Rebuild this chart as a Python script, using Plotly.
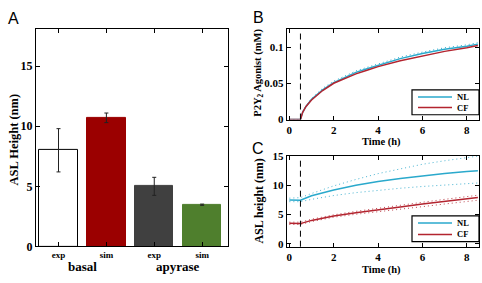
import plotly.graph_objects as go

# ---------------- data ----------------
# Panel A
bar_labels = ["exp", "sim", "exp", "sim"]
bar_pos = [1, 2, 3, 4]
group_labels = ["basal", "apyrase"]
asl_mean = [8.0, 10.7, 5.0, 3.47]
asl_err = [1.8, 0.4, 0.75, 0.05]
bar_colors = ["#ffffff", "#9b0000", "#404040", "#4f7f2d"]
bar_edges = ["#000000", "#9b0000", "#404040", "#4f7f2d"]
a_yticks = [0, 5, 10, 15]

# Panel B: P2Y2 agonist (mM) vs time (h)
t_b = [0, 0.25, 0.5, 0.6, 0.75, 1.0, 1.25, 1.5, 2.0, 2.5, 3.0, 3.5, 4.0, 5.0, 6.0, 7.0, 8.0, 8.5]
agon_nl = [0, 0, 0, 0.010, 0.018, 0.028, 0.035, 0.041, 0.051, 0.058, 0.065, 0.070, 0.075, 0.084, 0.091, 0.097, 0.101, 0.104]
agon_nl_hi = [0, 0, 0, 0.011, 0.019, 0.029, 0.036, 0.043, 0.053, 0.060, 0.067, 0.072, 0.077, 0.086, 0.093, 0.099, 0.103, 0.106]
agon_cf = [0, 0, 0, 0.010, 0.018, 0.027, 0.034, 0.040, 0.050, 0.057, 0.063, 0.068, 0.073, 0.081, 0.088, 0.094, 0.099, 0.102]
b_yticks = [0, 0.05, 0.1]
b_yticklabels = ["0", "0.05", "0.1"]

# Panel C: ASL height vs time (h)
t_c = [0, 0.25, 0.5, 1, 1.5, 2, 3, 4, 5, 6, 7, 8, 8.5]
asl_nl = [7.5, 7.5, 7.45, 8.2, 8.75, 9.2, 10.0, 10.65, 11.15, 11.6, 12.0, 12.35, 12.5]
asl_nl_hi = [7.8, 7.8, 7.9, 8.6, 9.3, 9.9, 11.0, 12.0, 12.8, 13.6, 14.2, 14.8, 15.0]
asl_nl_lo = [7.2, 7.2, 7.2, 7.6, 7.95, 8.25, 8.75, 9.15, 9.5, 9.8, 10.05, 10.3, 10.4]
asl_cf = [3.5, 3.5, 3.45, 4.0, 4.4, 4.75, 5.3, 5.75, 6.3, 6.8, 7.25, 7.7, 7.9]
asl_cf_hi = [3.7, 3.7, 3.7, 4.2, 4.6, 4.95, 5.55, 6.1, 6.6, 7.1, 7.6, 8.1, 8.3]
asl_cf_lo = [3.3, 3.3, 3.3, 3.8, 4.2, 4.55, 5.05, 5.45, 5.9, 6.35, 6.8, 7.2, 7.45]
c_yticks = [0, 5, 10, 15]

series_names = ["NL", "CF"]
t_event = 0.5
time_ticks = [0, 2, 4, 6, 8]

NL_COLOR = "#2aa9cc"
CF_COLOR = "#b3242f"
series_colors = [NL_COLOR, CF_COLOR]

SERIF = "Liberation Serif"
W, H = 482, 283

def px_x(x):
    return x / W

def px_y(y):
    return 1 - y / H

def bold(labels):
    return ["<b>%s</b>" % l for l in labels]

fig = go.Figure()

# ---- Panel A bars ----
fig.add_trace(go.Bar(
    x=bar_pos, y=asl_mean, width=0.8,
    marker=dict(color=bar_colors, line=dict(color=bar_edges, width=1)),
    error_y=dict(type="data", array=asl_err, visible=True, color="#222222", thickness=1, width=2),
    xaxis="x", yaxis="y", showlegend=False,
))

DOT = "1px,3px"

# ---- Panel B ----
fig.add_trace(go.Scatter(x=t_b, y=agon_nl_hi, mode="lines", line=dict(color=NL_COLOR, width=1, dash=DOT),
                         xaxis="x2", yaxis="y2", showlegend=False))
fig.add_trace(go.Scatter(x=t_b, y=agon_nl, mode="lines", name="NL", line=dict(color=NL_COLOR, width=1.5),
                         xaxis="x2", yaxis="y2", showlegend=False))
fig.add_trace(go.Scatter(x=t_b, y=agon_cf, mode="lines", name="CF", line=dict(color=CF_COLOR, width=1.5),
                         xaxis="x2", yaxis="y2", showlegend=False))

# ---- Panel C ----
for arr, col in [(asl_nl_hi, NL_COLOR), (asl_nl_lo, NL_COLOR), (asl_cf_hi, CF_COLOR), (asl_cf_lo, CF_COLOR)]:
    fig.add_trace(go.Scatter(x=t_c, y=arr, mode="lines", line=dict(color=col, width=1, dash=DOT),
                             xaxis="x3", yaxis="y3", showlegend=False, opacity=0.85))
fig.add_trace(go.Scatter(x=t_c, y=asl_nl, mode="lines", name="NL", line=dict(color=NL_COLOR, width=1.5),
                         xaxis="x3", yaxis="y3", showlegend=False))
fig.add_trace(go.Scatter(x=t_c, y=asl_cf, mode="lines", name="CF", line=dict(color=CF_COLOR, width=1.5),
                         xaxis="x3", yaxis="y3", showlegend=False))

def axis(size, vals, text=None):
    return dict(showline=True, linecolor="black", linewidth=1, mirror="ticks", ticks="inside",
                ticklen=4, tickcolor="black", showgrid=False, zeroline=False,
                tickvals=vals, ticktext=bold(text if text is not None else [str(v) for v in vals]),
                tickfont=dict(family=SERIF, size=size, color="black"))

xa_dom = [px_x(36), px_x(228)]
xb_dom = [px_x(286.7), px_x(479)]

shapes = [
    dict(type="line", xref="x2", yref="y2 domain", x0=t_event, x1=t_event, y0=0, y1=0.98,
         line=dict(color="black", width=1, dash="6px,4px")),
    dict(type="line", xref="x3", yref="y3 domain", x0=t_event, x1=t_event, y0=0, y1=0.98,
         line=dict(color="black", width=1, dash="6px,4px")),
]
ann = []

def label(text, x, y, size, family=SERIF, angle=0, xanchor="center"):
    ann.append(dict(text=text, x=px_x(x), y=px_y(y), xref="paper", yref="paper", showarrow=False,
                    xanchor=xanchor, yanchor="middle", textangle=angle,
                    font=dict(family=family, size=size, color="black")))

# compact MATLAB-style legend boxes
def legend_box(top, bottom):
    shapes.append(dict(type="rect", xref="paper", yref="paper", x0=px_x(412), x1=px_x(479),
                       y0=px_y(bottom), y1=px_y(top), line=dict(color="black", width=1.2),
                       fillcolor="white", layer="above"))
    rows = [top + 7.5, bottom - 7.5]
    for name, col, yy in zip(series_names, series_colors, rows):
        shapes.append(dict(type="line", xref="paper", yref="paper", x0=px_x(418), x1=px_x(452),
                           y0=px_y(yy), y1=px_y(yy), line=dict(color=col, width=1.5), layer="above"))
        label("<b>%s</b>" % name, 455, yy, 8.5, xanchor="left")

legend_box(88, 114)
legend_box(220, 247)

fig.update_layout(
    width=W, height=H, margin=dict(l=0, r=0, t=0, b=0),
    paper_bgcolor="white", plot_bgcolor="white",
    bargap=0, showlegend=False,
    xaxis=dict(domain=xa_dom, anchor="y", range=[0.53, 4.54], **axis(9, bar_pos, bar_labels)),
    yaxis=dict(domain=[px_y(252), px_y(24)], anchor="x", range=[0, 18.1], **axis(12, a_yticks)),
    xaxis2=dict(domain=xb_dom, anchor="y2", range=[-0.12, 8.55], **axis(11, time_ticks)),
    yaxis2=dict(domain=[px_y(119), px_y(24)], anchor="x2", range=[0, 0.125], **axis(11, b_yticks, b_yticklabels)),
    xaxis3=dict(domain=xb_dom, anchor="y3", range=[-0.12, 8.55], **axis(11, time_ticks)),
    yaxis3=dict(domain=[px_y(252.3), px_y(157.3)], anchor="x3", range=[-0.5, 15], **axis(11, c_yticks)),
    shapes=shapes,
)

label("A", 13, 13, 16, family="Liberation Sans")
label("B", 258, 12, 16, family="Liberation Sans")
label("C", 258, 149, 16, family="Liberation Sans")
label("<b>%s</b>" % group_labels[0], 82, 273, 13)
label("<b>%s</b>" % group_labels[1], 178, 273, 13)
label("<b>ASL Height (nm)</b>", 14, 140, 12.5, angle=-90)
label("<b>P2Y<sub>2</sub> Agonist (mM)</b>", 259, 70, 10.5, angle=-90)
label("<b>ASL height (nm)</b>", 259, 205, 12, angle=-90)
label("<b>Time (h)</b>", 381, 143, 10.5)
label("<b>Time (h)</b>", 381, 277, 10.5)
fig.update_layout(annotations=ann)

fig.write_html("out.html")
